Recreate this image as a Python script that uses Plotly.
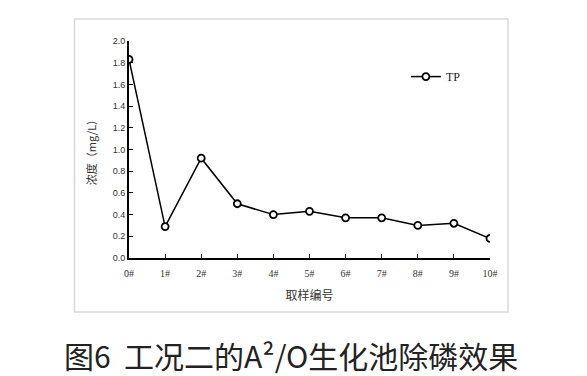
import plotly.graph_objects as go

categories = ["0#", "1#", "2#", "3#", "4#", "5#", "6#", "7#", "8#", "9#", "10#"]
tp_values = [1.83, 0.29, 0.92, 0.50, 0.40, 0.43, 0.37, 0.37, 0.30, 0.32, 0.18]
y_ticks = [0.0, 0.2, 0.4, 0.6, 0.8, 1.0, 1.2, 1.4, 1.6, 1.8, 2.0]
series_name = "TP"
x_title = "取样编号"
y_title = "浓度（mg/L）"
caption = "图6  工况二的A²/O生化池除磷效果"

fig = go.Figure()
fig.add_trace(go.Scatter(
    x=categories, y=tp_values, name=series_name, mode="lines+markers",
    line=dict(color="black", width=1.5),
    marker=dict(symbol="circle", size=7, color="white",
                line=dict(color="black", width=1.8)),
))

# page body has an 8px margin, so the figure is sized/shifted to compensate
fig.update_layout(
    width=579, height=368,
    margin=dict(l=121, r=97, t=33, b=118),
    paper_bgcolor="white", plot_bgcolor="white",
    showlegend=True,
    legend=dict(x=0.767, y=0.836, xanchor="left", yanchor="middle",
                bgcolor="rgba(0,0,0,0)", itemwidth=30,
                font=dict(family="Liberation Serif", size=12, color="#222")),
    xaxis=dict(
        type="category", range=[0, 10],
        showline=True, linecolor="black", linewidth=2,
        ticks="inside", ticklen=4, tickcolor="black", tickwidth=1,
        ticklabelstandoff=5,
        showgrid=False, zeroline=False,
        tickfont=dict(family="Liberation Serif", size=10, color="#333"),
        title=dict(text=x_title, standoff=14,
                   font=dict(family="Noto Sans CJK SC", size=12, color="#333")),
    ),
    yaxis=dict(
        range=[0, 2.0], tickvals=y_ticks, ticktext=[f"{v:.1f}" for v in y_ticks],
        showline=True, linecolor="black", linewidth=2,
        ticks="inside", ticklen=4, tickcolor="black", tickwidth=1,
        showgrid=False, zeroline=False,
        tickfont=dict(family="Liberation Sans", size=9, color="#333"),
        title=dict(text=y_title, standoff=14,
                   font=dict(family="Noto Sans CJK SC", size=11, color="#333")),
    ),
    shapes=[dict(type="rect", xref="paper", yref="paper",
                 x0=-0.151, x1=1.05, y0=-0.249, y1=1.101,
                 line=dict(color="#d9d9d9", width=1.5))],
    annotations=[dict(text=caption, xref="paper", yref="paper",
                      x=0.449, y=-0.447, xanchor="center", yanchor="middle",
                      showarrow=False,
                      font=dict(family="Noto Sans CJK SC", size=30, color="#222"))],
)

fig.write_html("out.html")
